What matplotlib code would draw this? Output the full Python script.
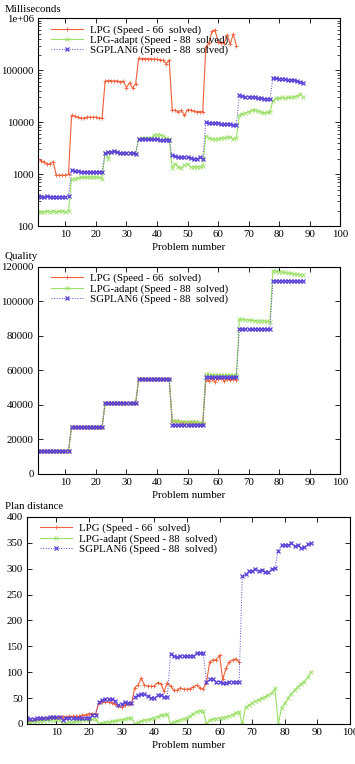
import numpy as np
import matplotlib
matplotlib.use("Agg")
import matplotlib.pyplot as plt
from matplotlib.ticker import FixedLocator, NullFormatter, LogLocator

plt.rcParams['font.family'] = ['Liberation Serif', 'DejaVu Serif']
plt.rcParams['font.size'] = 7.8

problems_lpg = np.arange(1, 67)
problems_all = np.arange(1, 89)

# --- time (ms) ---
time_lpg = [2000, 1800, 1750, 1550, 1600, 1750, 950, 950, 950, 960, 1000,
            13500, 13000, 12500, 12000, 12000, 12500, 12500, 12500, 12500, 12000, 12000,
            62000, 63000, 63000, 62000, 63000, 60000, 62000, 46000, 58000, 45000, 55000,
            170000, 168000, 168000, 167000, 166000, 165000, 163000, 160000, 155000, 135000, 155000,
            17000, 17000, 16000, 17000, 13500, 17500, 17000, 16500, 16000, 16000, 16000,
            280000, 330000, 560000, 600000, 350000, 340000, 330000, 480000, 320000, 500000, 300000]
time_adapt = [190, 185, 190, 195, 190, 195, 190, 195, 195, 190, 195,
              800, 820, 850, 870, 870, 880, 880, 880, 880, 870, 820,
              2600, 2000, 2700, 2750, 2650, 2600, 2600, 2600, 2600, 2550, 2600,
              4800, 5000, 5000, 5000, 5000, 5600, 5800, 5700, 5500, 5000, 4800,
              1300, 1600, 1400, 1300, 1500, 1600, 1350, 1400, 1350, 1400, 1450,
              5400, 5000, 4800, 4700, 4800, 4900, 5000, 5100, 5200, 4800, 5000,
              13500, 14500, 15000, 16000, 17000, 17000, 16500, 16000, 15000, 15500, 15500,
              26000, 29000, 29000, 30000, 29000, 30000, 30000, 31000, 32000, 35000, 30000]
time_sgplan = [380, 370, 360, 380, 360, 370, 360, 370, 370, 370, 380,
               1180, 1150, 1150, 1120, 1120, 1100, 1100, 1080, 1080, 1100, 1120,
               2600, 2700, 2700, 2750, 2650, 2600, 2600, 2600, 2550, 2550, 2500,
               4800, 4700, 4800, 4700, 4700, 4700, 4700, 4650, 4600, 4600, 4500,
               2300, 2200, 2150, 2100, 2100, 2100, 2050, 2000, 2000, 2100, 2000,
               10000, 9800, 9700, 9600, 9500, 9400, 9300, 9200, 9100, 9000, 8800,
               33000, 32000, 31000, 31000, 30500, 30000, 29500, 29000, 28500, 28000, 28000,
               72000, 70000, 69000, 68000, 67000, 66000, 65000, 64000, 62000, 60000, 58000]

# --- quality ---
quality_lpg = [13500] * 11 + [27200] * 11 + [41000] * 11 + [55000] * 11 + \
              [30700, 30600, 30500, 30400, 30300, 30200, 30100, 30000, 29900, 29800, 29700] + \
              [54500, 54000, 55000, 53500, 55000, 55500, 54000, 55000, 54500, 55000, 54500]
quality_adapt = [13500] * 11 + [27200] * 11 + [41000] * 11 + [55000] * 11 + \
                [30700, 30600, 30500, 30400, 30300, 30200, 30100, 30000, 29900, 29800, 29700] + \
                [57800, 57700, 57600, 57600, 57500, 57500, 57400, 57400, 57300, 57300, 57200] + \
                [89800, 89600, 89400, 89200, 89000, 88900, 88800, 88700, 88500, 88400, 88300] + \
                [117900, 117600, 117300, 117000, 116800, 116500, 116300, 116000, 115800, 115600, 115400]
quality_sgplan = [13500] * 11 + [27200] * 11 + [41000] * 11 + [55000] * 11 + \
                 [28200] * 11 + [56000] * 11 + [84000] * 11 + [112000] * 11

# --- plan distance ---
dist_lpg = [5, 6, 7, 8, 9, 10, 11, 12, 12, 12, 13,
            14, 14, 15, 15, 15, 15, 17, 18, 20, 20, 19,
            40, 42, 42, 42, 41, 38, 35, 32, 37, 38, 38,
            70, 75, 88, 75, 73, 73, 73, 80, 78, 63, 80,
            73, 65, 65, 70, 67, 67, 68, 72, 75, 70, 68,
            80, 120, 124, 124, 133, 86, 108, 120, 124, 126, 120]
dist_adapt = [2, 3, 4, 5, 6, 6, 7, 7, 8, 8, 8,
              0, 2, 3, 4, 5, 6, 7, 8, 9, 9, 10,
              0, 2, 3, 4, 5, 6, 7, 8, 10, 11, 12,
              0, 3, 5, 7, 8, 10, 12, 14, 17, 18, 19,
              0, 4, 6, 8, 10, 12, 15, 20, 24, 26, 25,
              0, 8, 9, 10, 12, 12, 14, 15, 18, 22, 24,
              0, 33, 36, 40, 44, 47, 50, 53, 56, 60, 69,
              0, 31, 40, 50, 58, 66, 72, 78, 82, 90, 101]
dist_sgplan = [11, 10, 10, 11, 12, 12, 12, 13, 14, 14, 14,
               8, 12, 12, 12, 11, 11, 11, 12, 12, 18, 18,
               43, 47, 48, 48, 48, 45, 37, 38, 42, 41, 40,
               53, 55, 57, 57, 54, 50, 50, 56, 55, 53, 52,
               136, 131, 130, 131, 131, 131, 132, 132, 137, 137, 137,
               82, 86, 86, 82, 82, 79, 80, 81, 82, 82, 82,
               285, 290, 295, 295, 300, 296, 298, 294, 294, 300, 302,
               335, 345, 345, 346, 350, 343, 346, 340, 342, 347, 350]

labels = ["LPG (Speed - 66  solved)", "LPG-adapt (Speed - 88  solved)", "SGPLAN6 (Speed - 88  solved)"]
c_red = '#f0603a'
c_green = '#9ae065'
c_blue = '#5a3fd6'


def draw(ax, lpg, adapt, sgplan):
    ax.plot(problems_lpg, lpg, color=c_red, lw=0.8, marker='+', ms=3, mew=0.6, label=labels[0])
    ax.plot(problems_all, adapt, color=c_green, lw=0.8, marker='x', ms=2.2, mew=0.6, label=labels[1])
    ax.plot(problems_all, sgplan, color=c_blue, lw=0.7, ls=':', marker='x', ms=2.6, mew=0.9, label=labels[2])
    ax.set_xlim(1, 100)
    ax.set_xticks(range(10, 101, 10))
    ax.tick_params(direction='in', top=True, right=True, length=3.5, width=0.6, pad=3)
    ax.tick_params(which='minor', direction='in', top=True, right=True, length=2, width=0.5)
    for s in ax.spines.values():
        s.set_linewidth(0.8)
    ax.set_xlabel("Problem number", labelpad=3)
    ax.legend(loc='upper left', frameon=False, handlelength=3.0, handletextpad=0.6,
              labelspacing=0.05, borderaxespad=0.2, bbox_to_anchor=(0.02, 1.0))


fig = plt.figure(figsize=(3.55, 7.64), dpi=100)

ax1 = fig.add_axes([0.107, 0.704, 0.851, 0.272])
draw(ax1, time_lpg, time_adapt, time_sgplan)
ax1.set_yscale('log')
ax1.set_ylim(100, 1e6)
ax1.yaxis.set_major_locator(FixedLocator([100, 1000, 10000, 100000, 1000000]))
ax1.set_yticklabels(['100', '1000', '10000', '100000', '1e+06'])
ax1.yaxis.set_minor_locator(LogLocator(base=10, subs=np.arange(2, 10)))
ax1.yaxis.set_minor_formatter(NullFormatter())
fig.text(0.014, 0.988, "Milliseconds", ha='left', va='center')

ax2 = fig.add_axes([0.107, 0.3796, 0.851, 0.271])
draw(ax2, quality_lpg, quality_adapt, quality_sgplan)
ax2.set_ylim(0, 120000)
ax2.set_yticks(range(0, 120001, 20000))
fig.text(0.014, 0.664, "Quality", ha='left', va='center')

ax3 = fig.add_axes([0.076, 0.0524, 0.910, 0.271])
draw(ax3, dist_lpg, dist_adapt, dist_sgplan)
ax3.set_ylim(0, 400)
ax3.set_yticks(range(0, 401, 50))
fig.text(0.014, 0.337, "Plan distance", ha='left', va='center')

fig.savefig("out.png", dpi=100)
